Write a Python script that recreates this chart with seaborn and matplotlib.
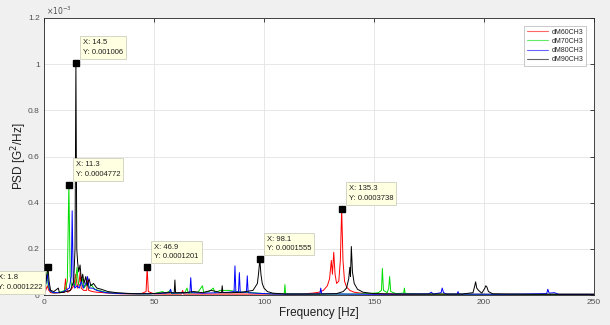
import matplotlib
matplotlib.use("Agg")
import matplotlib.pyplot as plt
import seaborn as sns
import pandas as pd

# ---------------- data (PSD in units of 1e-3 G^2/Hz) ----------------
series_names = ["dM60CH3", "dM70CH3", "dM80CH3", "dM90CH3"]
series_colors = ["#ff0000", "#00dd00", "#0000ff", "#000000"]

red_pts = [(0, 0.005), (0.8, 0.02), (1.5, 0.04), (2.2, 0.02), (3, 0.01), (5, 0.008), (7, 0.01),
           (9.2, 0.012), (9.8, 0.07), (10.2, 0.03), (10.8, 0.012), (12, 0.02), (13.6, 0.04),
           (14.4, 0.09), (15.2, 0.03), (16.0, 0.06), (16.4, 0.097), (16.9, 0.03), (18, 0.02),
           (19.4, 0.02), (19.8, 0.065), (20.3, 0.02), (22, 0.015), (24, 0.012), (27, 0.01),
           (32, 0.006), (38, 0.005), (44, 0.005), (46.4, 0.015), (46.9, 0.1201), (47.4, 0.015),
           (50, 0.005), (55, 0.004), (62.5, 0.004), (63, 0.02), (63.5, 0.004), (70, 0.004),
           (80, 0.004), (90, 0.004), (100, 0.004), (110, 0.004), (118, 0.005), (122, 0.008),
           (125, 0.012), (127, 0.02), (128.8, 0.04), (129.8, 0.07), (130.6, 0.15), (131.1, 0.09),
           (131.7, 0.185), (132.3, 0.09), (133, 0.05), (134, 0.06), (134.7, 0.15), (135.3, 0.3738),
           (135.9, 0.15), (136.6, 0.06), (137.5, 0.035), (139, 0.02), (141, 0.012), (144, 0.008),
           (148, 0.005), (155, 0.004), (170, 0.003), (200, 0.003), (230, 0.003), (250, 0.003)]

green_pts = [(0, 0.005), (0.6, 0.03), (1.1, 0.07), (1.5, 0.1), (1.9, 0.04), (2.6, 0.02), (4, 0.01),
             (6, 0.01), (8, 0.015), (9.5, 0.02), (10.6, 0.06), (11.3, 0.4772), (11.9, 0.08),
             (12.6, 0.04), (13.4, 0.05), (14.2, 0.04), (15, 0.12), (15.6, 0.05), (16.5, 0.04),
             (17.5, 0.07), (18.2, 0.03), (19.5, 0.05), (20.5, 0.03), (21.5, 0.045), (23, 0.025),
             (25, 0.02), (28, 0.012), (32, 0.008), (38, 0.006), (45, 0.005), (50, 0.006),
             (54, 0.015), (55, 0.006), (57.5, 0.02), (58, 0.006), (64, 0.01), (65, 0.03),
             (65.6, 0.008), (70, 0.012), (72, 0.04), (72.6, 0.01), (75, 0.015), (77, 0.03),
             (77.6, 0.01), (80, 0.02), (84, 0.02), (90, 0.012), (95, 0.01), (100, 0.006),
             (105, 0.005), (109.2, 0.005), (109.5, 0.045), (109.8, 0.005), (120, 0.004),
             (130, 0.004), (140, 0.004), (148, 0.006), (152, 0.01), (153.4, 0.02), (153.8, 0.115),
             (154.3, 0.02), (156, 0.01), (156.7, 0.03), (157.1, 0.08), (157.6, 0.015), (160, 0.006),
             (163.5, 0.008), (163.8, 0.03), (164.2, 0.006), (170, 0.004), (200, 0.003), (250, 0.003)]

blue_pts = [(0, 0.005), (0.5, 0.03), (1.0, 0.06), (1.5, 0.09), (2.0, 0.05), (2.6, 0.02), (4, 0.01),
            (7, 0.01), (9, 0.015), (11.5, 0.03), (12.4, 0.08), (12.8, 0.365), (13.3, 0.06),
            (14, 0.03), (15, 0.04), (16, 0.03), (17, 0.06), (17.8, 0.03), (19, 0.05), (19.8, 0.08),
            (20.5, 0.03), (22, 0.03), (24, 0.02), (28, 0.01), (35, 0.006), (45, 0.005), (52, 0.006),
            (57, 0.01), (57.5, 0.025), (58, 0.008), (66.3, 0.01), (66.7, 0.075), (67.1, 0.01),
            (72, 0.008), (80, 0.01), (84, 0.012), (86.4, 0.015), (86.8, 0.126), (87.2, 0.015),
            (88.4, 0.012), (88.8, 0.097), (89.2, 0.012), (92, 0.012), (92.4, 0.083), (92.8, 0.01),
            (96, 0.008), (105, 0.004), (120, 0.004), (125.4, 0.005), (125.8, 0.03), (126.2, 0.005),
            (150, 0.003), (175, 0.005), (176, 0.012), (177, 0.004), (180.5, 0.01), (181, 0.03),
            (181.6, 0.01), (183, 0.004), (187.8, 0.004), (188.2, 0.015), (188.6, 0.004),
            (210, 0.003), (228.5, 0.006), (229, 0.025), (229.6, 0.008), (232, 0.01), (234, 0.003),
            (250, 0.003)]

black_pts = [(0, 0.005), (0.6, 0.04), (1.2, 0.08), (1.8, 0.1222), (2.3, 0.06), (3, 0.02),
             (4.5, 0.015), (6.5, 0.03), (7, 0.01), (9, 0.012), (12, 0.02), (13.5, 0.06),
             (14.1, 0.2), (14.5, 1.006), (14.9, 0.2), (15.3, 0.14), (15.8, 0.1), (16.4, 0.13),
             (17, 0.06), (17.6, 0.09), (18.2, 0.05), (19, 0.08), (19.6, 0.04), (20.5, 0.07),
             (21.3, 0.04), (22.5, 0.05), (24, 0.03), (26, 0.025), (29, 0.015), (33, 0.01),
             (40, 0.006), (48, 0.005), (55, 0.01), (59.2, 0.01), (59.5, 0.065), (59.8, 0.01),
             (64, 0.01), (68, 0.015), (72, 0.01), (76, 0.02), (80.7, 0.01), (81, 0.04),
             (81.3, 0.01), (85, 0.01), (90, 0.012), (95, 0.02), (97, 0.05), (97.6, 0.1),
             (98.1, 0.1555), (98.6, 0.09), (99.2, 0.05), (100, 0.03), (101.5, 0.015), (104, 0.008),
             (110, 0.004), (125, 0.004), (133, 0.006), (136, 0.015), (137.5, 0.03), (138.5, 0.07),
             (139, 0.12), (139.3, 0.08), (139.7, 0.21), (140.2, 0.1), (141, 0.05), (142.5, 0.025),
             (145, 0.012), (150, 0.006), (160, 0.004), (190, 0.004), (195, 0.01), (195.8, 0.04),
             (196.2, 0.057), (196.7, 0.03), (197.5, 0.02), (199, 0.008), (200.4, 0.03),
             (200.8, 0.04), (201.3, 0.035), (202, 0.015), (204, 0.005), (220, 0.003), (250, 0.003)]

# data tips
tip_x = [1.8, 11.3, 14.5, 46.9, 98.1, 135.3]
tip_y_text = ["0.0001222", "0.0004772", "0.001006", "0.0001201", "0.0001555", "0.0003738"]
tip_y = [0.1222, 0.4772, 1.006, 0.1201, 0.1555, 0.3738]

x_ticks = [0, 50, 100, 150, 200, 250]
y_ticks = [0, 0.2, 0.4, 0.6, 0.8, 1.0, 1.2]
y_tick_labels = ["0", "0.2", "0.4", "0.6", "0.8", "1", "1.2"]

# ---------------- build frame ----------------
frames = []
for name, pts in zip(series_names, [red_pts, green_pts, blue_pts, black_pts]):
    f, v = zip(*pts)
    frames.append(pd.DataFrame({"freq": f, "psd": v, "series": name}))
df = pd.concat(frames, ignore_index=True)

sns.set_style("white")
plt.rcParams["font.family"] = ["Liberation Sans", "DejaVu Sans"]

fig = plt.figure(figsize=(6.1, 3.25), dpi=100, facecolor="#f0f0f0")
ax = fig.add_axes([44 / 610, 1 - 295 / 325, 550 / 610, 277 / 325])
ax.set_facecolor("white")

sns.lineplot(data=df, x="freq", y="psd", hue="series", hue_order=series_names,
             palette=dict(zip(series_names, series_colors)), estimator=None, sort=False,
             linewidth=0.7, ax=ax)

ax.set_xlim(0, 250)
ax.set_ylim(0, 1.2)
ax.set_xticks(x_ticks)
ax.set_yticks(y_ticks)
ax.set_yticklabels(y_tick_labels)
ax.grid(True, color="#e3e3e3", linewidth=0.6)
ax.set_axisbelow(True)
ax.tick_params(direction="in", top=True, right=True, length=3, width=0.6,
               labelsize=6, colors="#262626", labelcolor="#505050", pad=3)
for sp in ax.spines.values():
    sp.set_color("#262626")
    sp.set_linewidth(0.6)

ax.set_xlabel("Frequency [Hz]", fontsize=8.5, color="#202020")
ax.set_ylabel("PSD [G$^2$/Hz]", fontsize=8.5, color="#202020")
ax.xaxis.set_label_coords(0.5, -12 / 277)
ax.yaxis.set_label_coords(-15 / 550, 0.5)

ax.text(0.004, 1.004, r"$\times10^{-3}$", transform=ax.transAxes, fontsize=5.5,
        color="#505050", ha="left", va="bottom")

# legend
leg = ax.legend(loc="upper right", bbox_to_anchor=(1 - 8 / 550, 1 - 8 / 277), borderaxespad=0,
                fontsize=5, frameon=True, fancybox=False, handlelength=3.0, handletextpad=0.5,
                labelspacing=0.3, borderpad=0.4, title=None)
leg.get_frame().set_edgecolor("#b0b0b0")
leg.get_frame().set_linewidth(0.6)
for line in leg.get_lines():
    line.set_linewidth(0.8)
    line.set_alpha(0.6)

# data tips
for i, (tx, ty, tl) in enumerate(zip(tip_x, tip_y, tip_y_text)):
    ax.plot([tx], [ty], marker="s", markersize=4.5, color="black", zorder=6)
    label = f"X: {tx:g}\nY: {tl}"
    if i == 0:
        xytext, ha, va = (-4, -5.5), "right", "top"
    else:
        xytext, ha, va = (5, 5), "left", "bottom"
    ax.annotate(label, xy=(tx, ty), xytext=xytext, textcoords="offset points",
                ha=ha, va=va, multialignment="left", fontsize=5.5, color="#202020",
                linespacing=1.5, annotation_clip=False, zorder=7,
                bbox=dict(boxstyle="square,pad=0.4", facecolor="#ffffe1",
                          edgecolor="#cfcfc0", linewidth=0.6))

fig.savefig("out.png", dpi=100, facecolor=fig.get_facecolor())
